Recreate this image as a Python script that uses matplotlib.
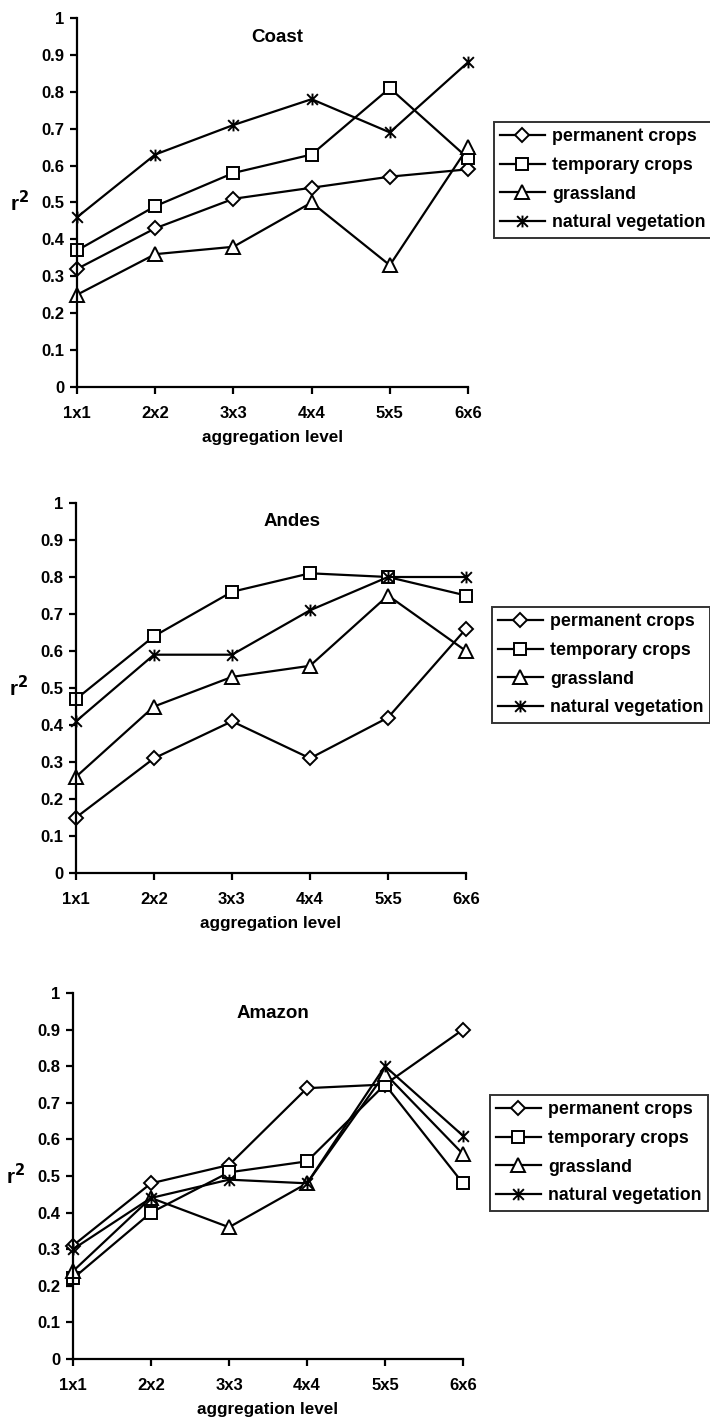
import matplotlib
matplotlib.use("Agg")
import matplotlib.pyplot as plt
from matplotlib.path import Path

plt.rcParams['font.family'] = ['Liberation Sans', 'DejaVu Sans']
plt.rcParams['font.weight'] = 'bold'

levels = ["1x1", "2x2", "3x3", "4x4", "5x5", "6x6"]
series_names = ["permanent crops", "temporary crops", "grassland", "natural vegetation"]

coast_permanent = [0.32, 0.43, 0.51, 0.54, 0.57, 0.59]
coast_temporary = [0.37, 0.49, 0.58, 0.63, 0.81, 0.62]
coast_grassland = [0.25, 0.36, 0.38, 0.50, 0.33, 0.65]
coast_natural = [0.46, 0.63, 0.71, 0.78, 0.69, 0.88]

andes_permanent = [0.15, 0.31, 0.41, 0.31, 0.42, 0.66]
andes_temporary = [0.47, 0.64, 0.76, 0.81, 0.80, 0.75]
andes_grassland = [0.26, 0.45, 0.53, 0.56, 0.75, 0.60]
andes_natural = [0.41, 0.59, 0.59, 0.71, 0.80, 0.80]

amazon_permanent = [0.31, 0.48, 0.53, 0.74, 0.75, 0.90]
amazon_temporary = [0.22, 0.40, 0.51, 0.54, 0.75, 0.48]
amazon_grassland = [0.24, 0.44, 0.36, 0.48, 0.78, 0.56]
amazon_natural = [0.30, 0.44, 0.49, 0.48, 0.80, 0.61]

yticks = [0, 0.1, 0.2, 0.3, 0.4, 0.5, 0.6, 0.7, 0.8, 0.9, 1]
ytick_labels = ["0", "0.1", "0.2", "0.3", "0.4", "0.5", "0.6", "0.7", "0.8", "0.9", "1"]

star = Path([(-1, -1), (1, 1), (-1, 1), (1, -1), (0, -1.1), (0, 1.1)],
            [Path.MOVETO, Path.LINETO, Path.MOVETO, Path.LINETO, Path.MOVETO, Path.LINETO])

styles = [dict(marker='D', markersize=7.5),
          dict(marker='s', markersize=9),
          dict(marker='^', markersize=9.5),
          dict(marker=star, markersize=8.5)]

W, H = 710, 1425
fig = plt.figure(figsize=(W / 100, H / 100), dpi=100)

panels = [
    ("Coast", [coast_permanent, coast_temporary, coast_grassland, coast_natural],
     (77, 468, 18, 387), (277, 37), (494, 122)),
    ("Andes", [andes_permanent, andes_temporary, andes_grassland, andes_natural],
     (76, 466, 503, 873), (292, 522), (492, 607)),
    ("Amazon", [amazon_permanent, amazon_temporary, amazon_grassland, amazon_natural],
     (73, 463, 993, 1359), (273, 1014), (490, 1095)),
]

for title, data, (l, r, t, b), (tx, ty), (lx, ly) in panels:
    ax = fig.add_axes([l / W, 1 - b / H, (r - l) / W, (b - t) / H])
    x = list(range(len(levels)))
    for name, vals, st in zip(series_names, data, styles):
        ax.plot(x, vals, color='black', linewidth=1.6, markerfacecolor='white',
                markeredgecolor='black', markeredgewidth=1.4, clip_on=False,
                label=name, **st)
    ax.set_xlim(0, 5)
    ax.set_ylim(0, 1)
    ax.set_xticks(x)
    ax.set_xticklabels(levels, fontsize=12, fontweight='bold')
    ax.set_yticks(yticks)
    ax.set_yticklabels(ytick_labels, fontsize=12, fontweight='bold')
    for s in ['top', 'right']:
        ax.spines[s].set_visible(False)
    for s in ['left', 'bottom']:
        ax.spines[s].set_linewidth(1.6)
    ax.tick_params(axis='both', direction='out', length=5, width=1.6)
    ax.tick_params(axis='y', pad=4)
    ax.tick_params(axis='x', pad=9)
    ax.set_xlabel("aggregation level", fontsize=12.3, fontweight='bold', labelpad=6)
    ax.set_ylabel("r$^\\mathbf{2}$", fontsize=15, fontweight='bold', rotation=0,
                  labelpad=16, va='center')
    fig.text(tx / W, 1 - ty / H, title, fontsize=13.5, fontweight='bold',
             ha='center', va='center')
    leg = ax.legend(loc='upper left', bbox_to_anchor=(lx / W, 1 - ly / H),
                    bbox_transform=fig.transFigure, frameon=True, fancybox=False,
                    edgecolor='black', fontsize=12.8, handlelength=2.5,
                    handletextpad=0.4, labelspacing=0.66, borderpad=0.35,
                    borderaxespad=0)
    leg.get_frame().set_linewidth(1.4)
    for txt in leg.get_texts():
        txt.set_fontweight('bold')

fig.savefig("out.png", dpi=100)
